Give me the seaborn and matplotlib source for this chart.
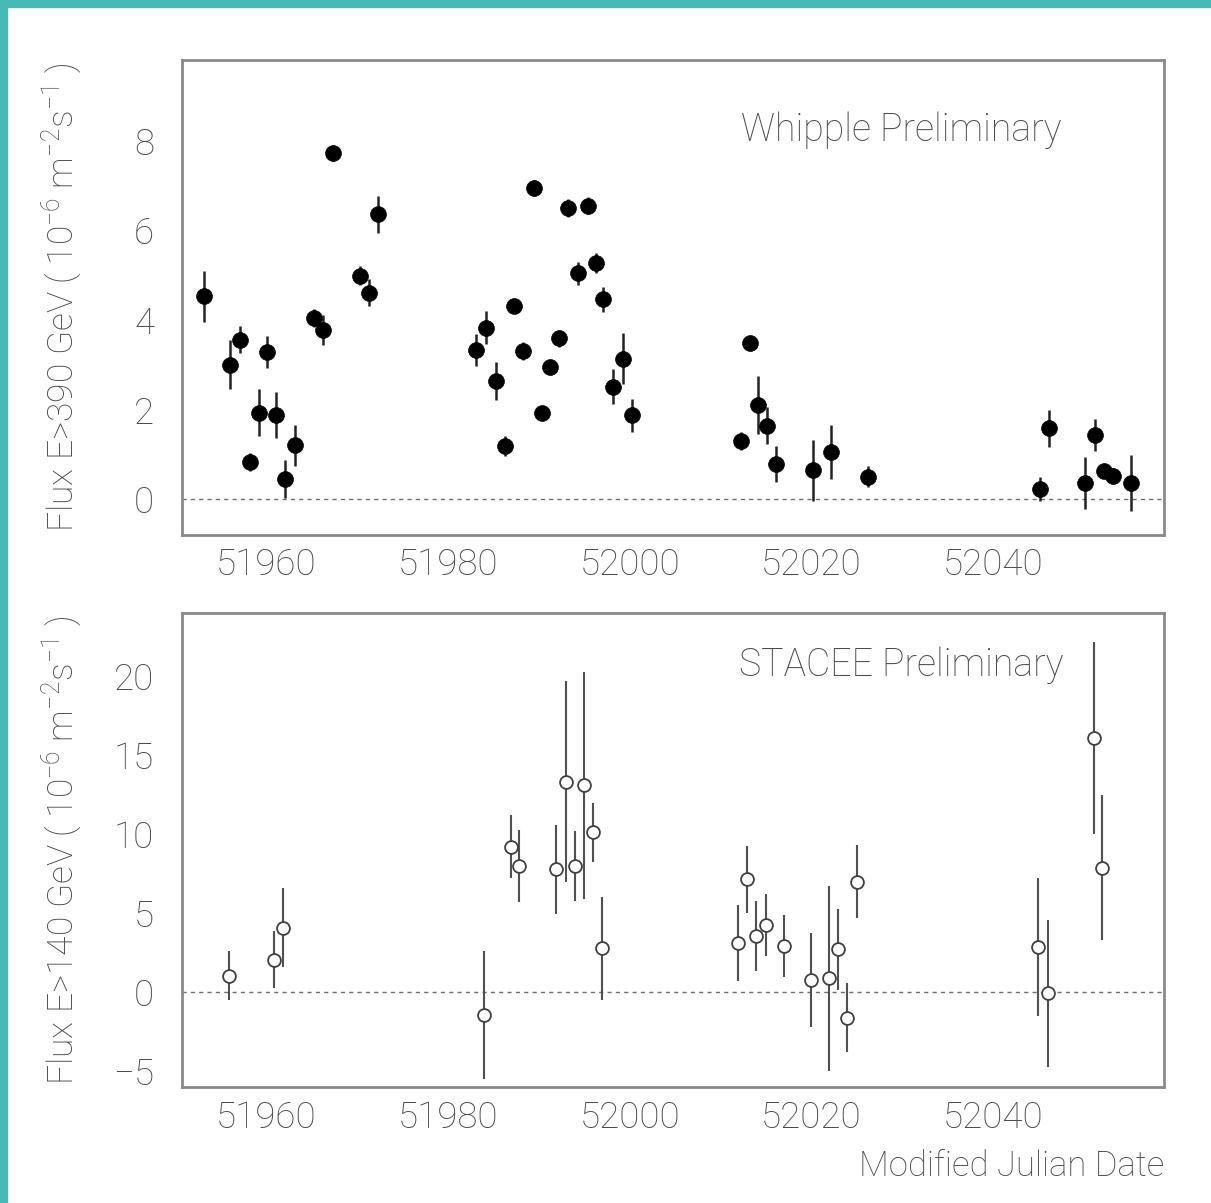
import numpy as np
import pandas as pd
import matplotlib
matplotlib.use("Agg")
import matplotlib.pyplot as plt
from matplotlib.ticker import MultipleLocator
import seaborn as sns

# Whipple light curve (E > 390 GeV)
whipple_mjd = [51953.18, 51956.04, 51957.14, 51958.24, 51959.23, 51960.14, 51961.10,
               51962.09, 51963.22, 51965.31, 51966.24, 51967.34, 51970.34, 51971.30,
               51972.32, 51983.11, 51984.21, 51985.31, 51986.30, 51987.32, 51988.31,
               51989.49, 51990.37, 51991.25, 51992.28, 51993.20, 51994.37, 51995.40,
               51996.31, 51997.12, 51998.22, 51999.25, 52000.28, 52012.24, 52013.26,
               52014.14, 52015.17, 52016.12, 52020.16, 52022.14, 52026.21, 52045.17,
               52046.19, 52050.12, 52051.22, 52052.25, 52053.17, 52055.19]
whipple_flux = [4.53, 3.00, 3.56, 0.83, 1.93, 3.28, 1.88,
                0.45, 1.20, 4.05, 3.78, 7.72, 4.99, 4.61,
                6.36, 3.33, 3.83, 2.63, 1.19, 4.31, 3.31,
                6.94, 1.92, 2.96, 3.59, 6.50, 5.04, 6.55,
                5.27, 4.46, 2.51, 3.13, 1.87, 1.30, 3.48,
                2.10, 1.64, 0.79, 0.64, 1.05, 0.50, 0.22,
                1.58, 0.36, 1.43, 0.62, 0.52, 0.36]
whipple_err = [0.57, 0.55, 0.30, 0.20, 0.53, 0.35, 0.51,
               0.43, 0.46, 0.20, 0.33, 0.18, 0.22, 0.30,
               0.41, 0.35, 0.37, 0.42, 0.23, 0.15, 0.20,
               0.18, 0.15, 0.12, 0.19, 0.20, 0.26, 0.19,
               0.22, 0.28, 0.39, 0.57, 0.37, 0.20, 0.12,
               0.65, 0.41, 0.40, 0.69, 0.60, 0.24, 0.27,
               0.42, 0.57, 0.35, 0.13, 0.17, 0.62]

# STACEE light curve (E > 140 GeV)
stacee_mjd = [51955.96, 51960.91, 51961.90, 51983.99, 51986.93, 51987.87, 51991.91,
              51992.98, 51994.00, 51994.99, 51996.02, 51996.94, 52011.97, 52012.96,
              52013.92, 52015.02, 52017.00, 52019.94, 52021.99, 52022.91, 52023.97,
              52025.07, 52044.98, 52046.02, 52051.12, 52052.03]
stacee_flux = [1.03, 2.07, 4.08, -1.46, 9.20, 8.00, 7.77,
               13.33, 7.98, 13.10, 10.12, 2.77, 3.09, 7.14,
               3.57, 4.24, 2.94, 0.76, 0.87, 2.72, -1.60,
               6.99, 2.87, -0.08, 16.08, 7.88]
stacee_err = [1.55, 1.82, 2.50, 4.06, 2.00, 2.27, 2.83,
              6.34, 2.23, 7.20, 1.85, 3.25, 2.40, 2.10,
              2.20, 1.95, 1.98, 2.96, 5.83, 2.55, 2.16,
              2.30, 4.36, 4.65, 6.06, 4.60]

whipple = pd.DataFrame({"mjd": whipple_mjd, "flux": whipple_flux, "err": whipple_err})
stacee = pd.DataFrame({"mjd": stacee_mjd, "flux": stacee_flux, "err": stacee_err})

sns.set_style("white")
plt.rcParams["font.family"] = ["Roboto", "DejaVu Sans"]
plt.rcParams["font.weight"] = "light"
plt.rcParams["axes.labelweight"] = "light"
plt.rcParams["mathtext.fontset"] = "custom"
plt.rcParams["mathtext.rm"] = "Roboto:light"
plt.rcParams["mathtext.it"] = "Roboto:light"
plt.rcParams["mathtext.default"] = "rm"

TEXT = "#4a4a4a"
SPINE = "#8a8a8a"
TEAL = "#48b9b6"

fig = plt.figure(figsize=(12.11, 12.03), dpi=100)
fig.patch.set_facecolor("white")

# teal frame strips on top and left
fig.add_artist(plt.Rectangle((0, 1 - 7 / 1203), 1, 7 / 1203, transform=fig.transFigure,
                             color=TEAL, zorder=0))
fig.add_artist(plt.Rectangle((0, 0), 7 / 1211, 1, transform=fig.transFigure,
                             color=TEAL, zorder=0))

ax1 = fig.add_axes([0.1503, 0.5553, 0.8109, 0.3948])
ax2 = fig.add_axes([0.1503, 0.0964, 0.8109, 0.3940])


def style_axis(ax, ylim, ymajor, yminor, ylabel):
    ax.set_xlim(51950.75, 52058.8)
    ax.set_ylim(*ylim)
    ax.xaxis.set_major_locator(MultipleLocator(20))
    ax.xaxis.set_minor_locator(MultipleLocator(5))
    ax.yaxis.set_major_locator(MultipleLocator(ymajor))
    ax.yaxis.set_minor_locator(MultipleLocator(yminor))
    ax.tick_params(axis="both", which="major", direction="in", length=18, width=1.5,
                   color=SPINE, labelsize=26.5, labelcolor=TEXT)
    ax.tick_params(axis="both", which="minor", direction="in", length=10, width=1.5,
                   color=SPINE)
    ax.tick_params(axis="x", which="major", pad=9)
    ax.tick_params(axis="y", which="major", pad=20)
    ax.tick_params(top=False, right=False, which="both")
    for s in ax.spines.values():
        s.set_color(SPINE)
        s.set_linewidth(2)
    ax.axhline(0, color="#707070", lw=1, ls=(0, (3, 3)), zorder=1)
    ax.set_ylabel(ylabel, fontsize=25.5, color=TEXT)
    ax.yaxis.set_label_coords(-0.10, 0.5)
    ax.set_xlabel("")


# top panel: Whipple
ax1.errorbar(whipple["mjd"], whipple["flux"], yerr=whipple["err"], fmt="none",
             ecolor="#222222", elinewidth=1.8, capsize=0, zorder=2)
sns.scatterplot(data=whipple, x="mjd", y="flux", ax=ax1, color="black", s=130,
                edgecolor="black", linewidth=0.5, zorder=3, legend=False)
style_axis(ax1, (-0.8, 9.8), 2, 0.5,
           r"Flux E>390 GeV ( 10$^{-6}$ m$^{-2}$s$^{-1}$ )")
ax1.text(0.732, 0.853, "Whipple Preliminary", transform=ax1.transAxes,
         ha="center", va="center", fontsize=27, color=TEXT)

# bottom panel: STACEE
ax2.errorbar(stacee["mjd"], stacee["flux"], yerr=stacee["err"], fmt="none",
             ecolor="#505050", elinewidth=1.5, capsize=0, zorder=2)
sns.scatterplot(data=stacee, x="mjd", y="flux", ax=ax2, color="white", s=85,
                edgecolor="#404040", linewidth=1.3, zorder=3, legend=False)
style_axis(ax2, (-6, 24), 5, 1,
           r"Flux E>140 GeV ( 10$^{-6}$ m$^{-2}$s$^{-1}$ )")
ax2.text(0.732, 0.89, "STACEE Preliminary", transform=ax2.transAxes,
         ha="center", va="center", fontsize=27, color=TEXT)
ax2.set_xlabel("Modified Julian Date", fontsize=25, color=TEXT, loc="right", labelpad=10)

fig.savefig("out.png", dpi=100, facecolor="white")
